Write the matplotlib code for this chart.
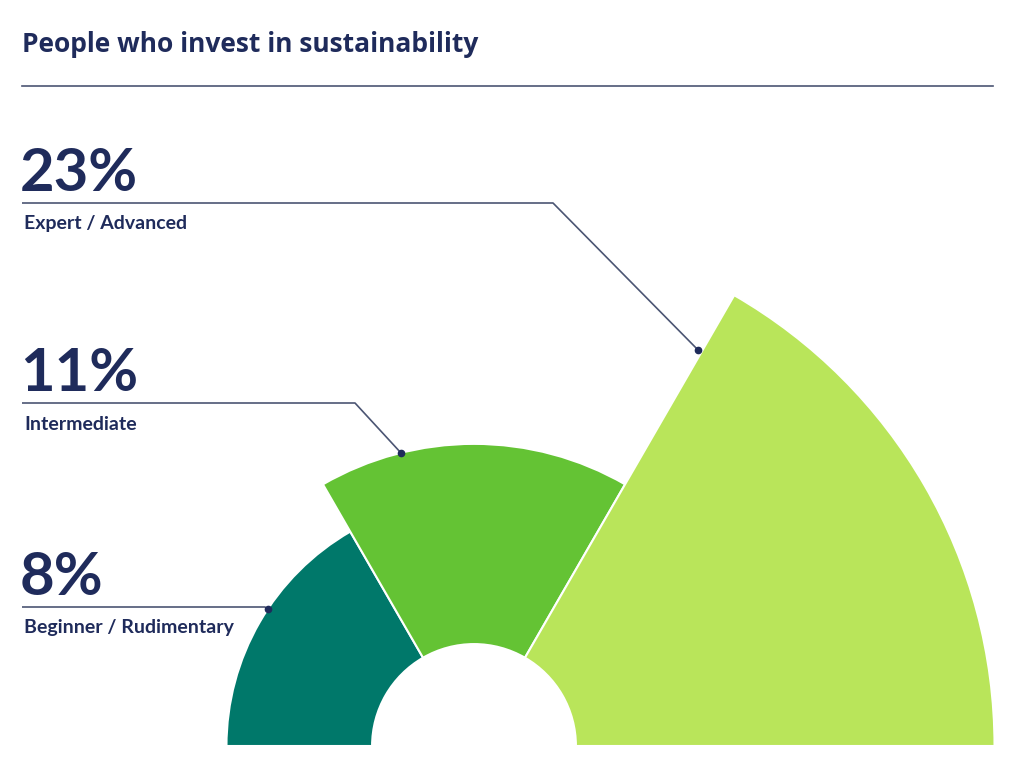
import numpy as np
import matplotlib
matplotlib.use('Agg')
import matplotlib.pyplot as plt
from matplotlib.patches import Wedge

# ── data ──
labels = ['Beginner / Rudimentary', 'Intermediate', 'Expert / Advanced']
values = [8, 11, 23]
pct_text = ['8%', '11%', '23%']
colors = ['#00786A', '#64C334', '#B9E55A']

# ── style ──
NAVY = '#1F2B5B'
LINE = '#4B5573'
HOLE = 5.6          # inner radius, in value units
SCALE = 18.2        # pixels per value unit
CX, CY = 474, 746   # chart centre, in figure pixels

fig = plt.figure(figsize=(10.24, 7.79), dpi=100)
fig.patch.set_facecolor('white')
ax = fig.add_axes([0, 0, 1, 1])
ax.set_xlim(-CX / SCALE, (1024 - CX) / SCALE)
ax.set_ylim(-(779 - CY) / SCALE, CY / SCALE)
ax.axis('off')


def px(x, y):
    # figure pixel (top-left origin) -> data coords
    return (x - CX) / SCALE, (CY - y) / SCALE


# wedges: 180° split evenly, radius = hole + value
n = len(values)
step = 180 / n
for i, v in enumerate(values):
    t2 = 180 - i * step
    t1 = t2 - step
    ax.add_patch(Wedge((0, 0), HOLE + v, t1, t2, width=v,
                       facecolor=colors[i], edgecolor='white', linewidth=1.5))

# title + rule
fig.text(22 / 1024, 1 - 44 / 779, 'People who invest in sustainability',
         fontsize=19, fontweight='bold', color=NAVY, family='Open Sans',
         va='center', ha='left')
ax.plot(*zip(px(22, 86), px(993, 86)), color=LINE, lw=1.2)

# labels with leaders
text_y = [607, 403, 203]            # underline y (pixels)
elbow_x = [265, 355, 553]           # where the leader turns
dot_ang = [146.5, 104, 60.5]         # degrees
dot_r = [HOLE + values[0], HOLE + values[1], 25.0]

for i in range(n):
    y = text_y[i]
    a = np.deg2rad(dot_ang[i])
    dx, dy = dot_r[i] * np.cos(a), dot_r[i] * np.sin(a)
    p0 = px(22, y)
    p1 = px(elbow_x[i], y)
    ax.plot([p0[0], p1[0], dx], [p0[1], p1[1], dy], color=LINE, lw=1.2,
            solid_capstyle='butt')
    ax.plot(dx, dy, 'o', color=NAVY, ms=4.5)
    tx, ty = px(20, y - 12)
    ax.text(tx, ty, pct_text[i], fontsize=43, fontweight='bold', color=NAVY,
            family='Lato', ha='left', va='baseline')
    lx, ly = px(24, y + 21)
    ax.text(lx, ly, labels[i], fontsize=14, fontweight='bold', color=NAVY,
            family='Lato', ha='left', va='center')

fig.savefig('out.png', dpi=100, facecolor='white')
